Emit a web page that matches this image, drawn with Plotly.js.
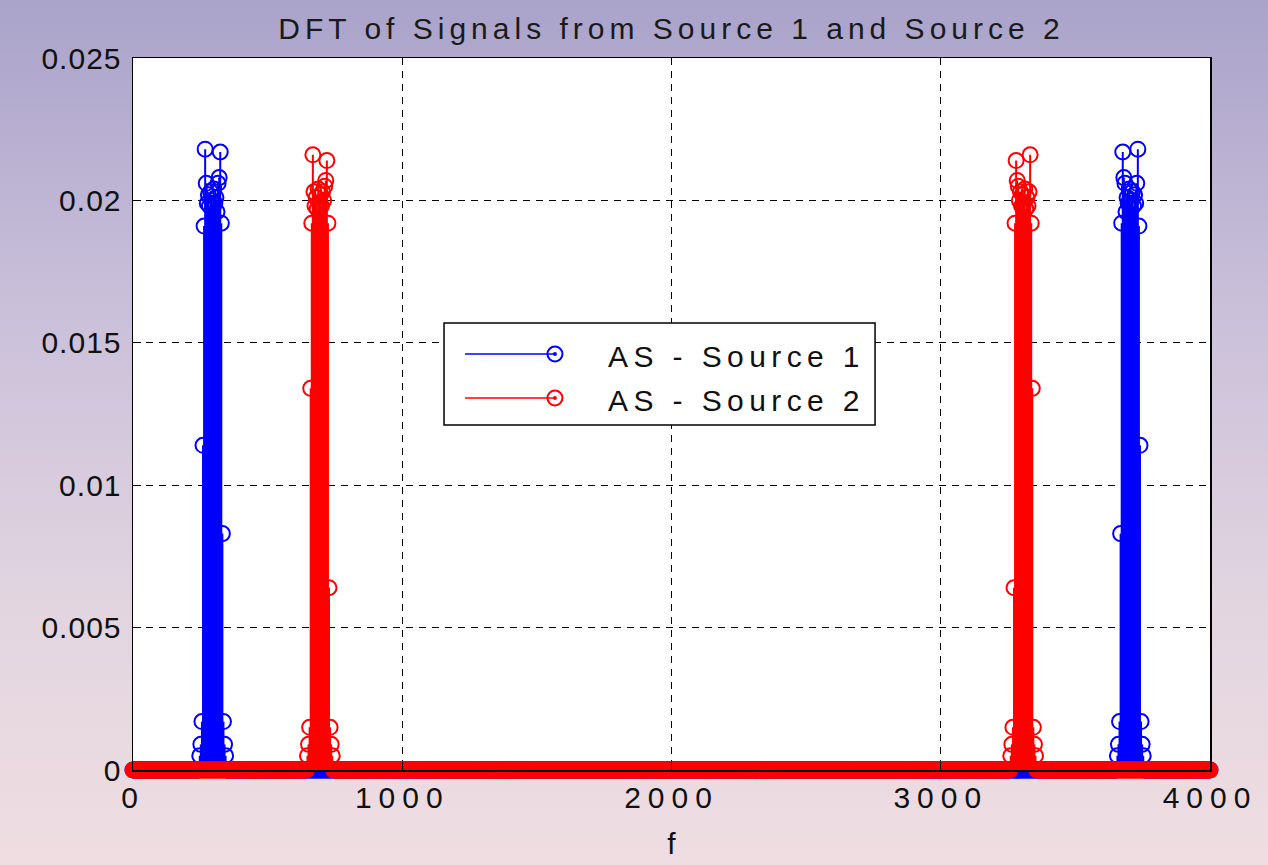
<!DOCTYPE html>
<html>
<head>
<meta charset="utf-8">
<script src="https://cdn.plot.ly/plotly-3.0.1.min.js"></script>
<style>
  html, body { margin:0; padding:0; }
  body { width:1268px; height:865px; background: linear-gradient(to bottom, #aaa3ca 0%, #c9bfd9 35%, #e2d5e0 70%, #efdde1 100%); }
  #chart { width:1268px; height:865px; }
  .gtitle { letter-spacing: 5px; }
  .annotation-text { letter-spacing: 5.4px; }
  .xtick text { letter-spacing: 7px; }
  .ytick text { letter-spacing: 1px; }
</style>
</head>
<body>
<div id="chart"></div>
<script>
// ---- data ----
const binStep = 4;          // DFT bin spacing in Hz
const fMax = 4000;          // last frequency shown

// Source 1 (blue) - low-frequency cluster
const blueLowF = [248,252,256,260,264,268,272,276,280,284,288,292,296,300,304,308,312,316,320,324,328,332,336,340,344];
const blueLowA = [0.0005,0.0009,0.0017,0.0114,0.0191,0.0218,0.0206,0.0199,0.0202,0.0198,0.0203,0.0200,0.0197,0.0204,0.0199,0.0201,0.0196,0.0206,0.0208,0.0217,0.0192,0.0083,0.0017,0.0009,0.0005];
// Source 1 (blue) - mirrored high cluster
const blueHighF = [3656,3660,3664,3668,3672,3676,3680,3684,3688,3692,3696,3700,3704,3708,3712,3716,3720,3724,3728,3732,3736,3740,3744,3748,3752];
const blueHighA = [0.0005,0.0009,0.0017,0.0083,0.0192,0.0217,0.0208,0.0206,0.0196,0.0201,0.0199,0.0204,0.0197,0.0200,0.0203,0.0198,0.0202,0.0199,0.0206,0.0218,0.0191,0.0114,0.0017,0.0009,0.0005];

// Source 2 (red) - low-frequency cluster
const redLowF = [648,652,656,660,664,668,672,676,680,684,688,692,696,700,704,708,712,716,720,724,728,732,736,740];
const redLowA = [0.0005,0.0009,0.0015,0.0134,0.0192,0.0216,0.0203,0.0198,0.0201,0.0197,0.0204,0.0199,0.0202,0.0198,0.0203,0.0200,0.0205,0.0207,0.0214,0.0192,0.0064,0.0015,0.0009,0.0005];
// Source 2 (red) - mirrored high cluster
const redHighF = [3260,3264,3268,3272,3276,3280,3284,3288,3292,3296,3300,3304,3308,3312,3316,3320,3324,3328,3332,3336,3340,3344,3348,3352];
const redHighA = [0.0005,0.0009,0.0015,0.0064,0.0192,0.0214,0.0207,0.0205,0.0200,0.0203,0.0198,0.0202,0.0199,0.0204,0.0197,0.0201,0.0198,0.0203,0.0216,0.0192,0.0134,0.0015,0.0009,0.0005];

const seriesNames = ['AS - Source 1', 'AS - Source 2'];
const xTicks = [0, 1000, 2000, 3000, 4000];
const yTicks = [0, 0.005, 0.01, 0.015, 0.02, 0.025];

// ---- build full spectra (bins not listed read as zero) ----
function buildSpectrum(fLists, aLists) {
  const map = new Map();
  fLists.forEach((fl, i) => fl.forEach((f, j) => map.set(f, aLists[i][j])));
  const xs = [], ys = [];
  for (let f = 0; f <= fMax; f += binStep) { xs.push(f); ys.push(map.has(f) ? map.get(f) : 0); }
  return {xs, ys};
}
function stems(sp) {
  const x = [], y = [];
  sp.xs.forEach((f, i) => { if (sp.ys[i] !== 0) { x.push(f, f, null); y.push(0, sp.ys[i], null); } });
  return {x, y};
}
const blue = buildSpectrum([blueLowF, blueHighF], [blueLowA, blueHighA]);
const red = buildSpectrum([redLowF, redHighF], [redLowA, redHighA]);
const blueStem = stems(blue), redStem = stems(red);

const BLUE = '#0000ff', RED = '#ff0000';
const FONT = 'Liberation Sans, Arial, Helvetica, sans-serif';

function markerTrace(sp, color, name) {
  return {type:'scatter', mode:'markers', x:sp.xs, y:sp.ys, name:name, showlegend:false, cliponaxis:false,
    marker:{symbol:'circle-open', size:15, color:color, line:{width:2, color:color}}, hoverinfo:'x+y'};
}
function stemTrace(st, color, name) {
  return {type:'scatter', mode:'lines', x:st.x, y:st.y, name:name, showlegend:false, connectgaps:false,
    line:{color:color, width:2}, hoverinfo:'skip'};
}

const data = [
  stemTrace(blueStem, BLUE, seriesNames[0]),
  markerTrace(blue, BLUE, seriesNames[0]),
  stemTrace(redStem, RED, seriesNames[1]),
  markerTrace(red, RED, seriesNames[1])
];

// ---- custom MATLAB-like legend ----
const lg = {x0:0.2888, x1:0.6890, y0:0.4846, y1:0.6278, lineX0:0.3083, lineX1:0.3918, textX:0.4392, rows:[0.5843, 0.5225]};
const colors = [BLUE, RED];
const shapes = [
  {type:'rect', xref:'paper', yref:'paper', x0:lg.x0, x1:lg.x1, y0:lg.y0, y1:lg.y1, fillcolor:'#ffffff', line:{color:'#000', width:1.5}, layer:'above'}
];
const annotations = [];
lg.rows.forEach((yy, i) => {
  shapes.push({type:'line', xref:'paper', yref:'paper', x0:lg.lineX0, x1:lg.lineX1, y0:yy, y1:yy, line:{color:colors[i], width:1.5}, layer:'above'});
  shapes.push({type:'circle', xref:'paper', yref:'paper', xsizemode:'pixel', ysizemode:'pixel', xanchor:lg.lineX1, yanchor:yy, x0:-7.5, x1:7.5, y0:-7.5, y1:7.5, line:{color:colors[i], width:2}, fillcolor:'rgba(0,0,0,0)', layer:'above'});
  shapes.push({type:'circle', xref:'paper', yref:'paper', xsizemode:'pixel', ysizemode:'pixel', xanchor:lg.lineX1, yanchor:yy, x0:-2, x1:2, y0:-2, y1:2, line:{color:colors[i], width:0}, fillcolor:colors[i], layer:'above'});
  annotations.push({xref:'paper', yref:'paper', x:lg.textX, y:yy - 0.003, xanchor:'left', yanchor:'middle', text:seriesNames[i], showarrow:false, font:{family:FONT, size:30, color:'#111'}});
});

const axisCommon = {
  showgrid:true, gridcolor:'#000', gridwidth:1.3, griddash:'7px,6px',
  showline:true, mirror:true, linecolor:'#000', linewidth:1.5,
  ticks:'inside', ticklen:8, tickcolor:'#000', tickwidth:1.2,
  zeroline:false, tickfont:{family:FONT, size:30, color:'#111'}
};

const layout = {
  width:1268, height:865,
  margin:{l:133, r:58, t:58, b:95},
  paper_bgcolor:'rgba(0,0,0,0)', plot_bgcolor:'#ffffff',
  title:{text:'DFT of Signals from Source 1 and Source 2', font:{family:FONT, size:30, color:'#1a1a1a'}, x:0.5, xref:'paper', y:0.967, yref:'container', yanchor:'middle'},
  xaxis:Object.assign({}, axisCommon, {range:[0, fMax], tickvals:xTicks, ticktext:xTicks.map(String),
    title:{text:'f', font:{family:FONT, size:30, color:'#111'}, standoff:20}}),
  yaxis:Object.assign({}, axisCommon, {range:[0, 0.025], tickvals:yTicks, ticktext:yTicks.map(String), ticklabelstandoff:4}),
  shapes:shapes, annotations:annotations,
  showlegend:false
};

Plotly.newPlot('chart', data, layout, {displayModeBar:false, staticPlot:true});
</script>
</body>
</html>
